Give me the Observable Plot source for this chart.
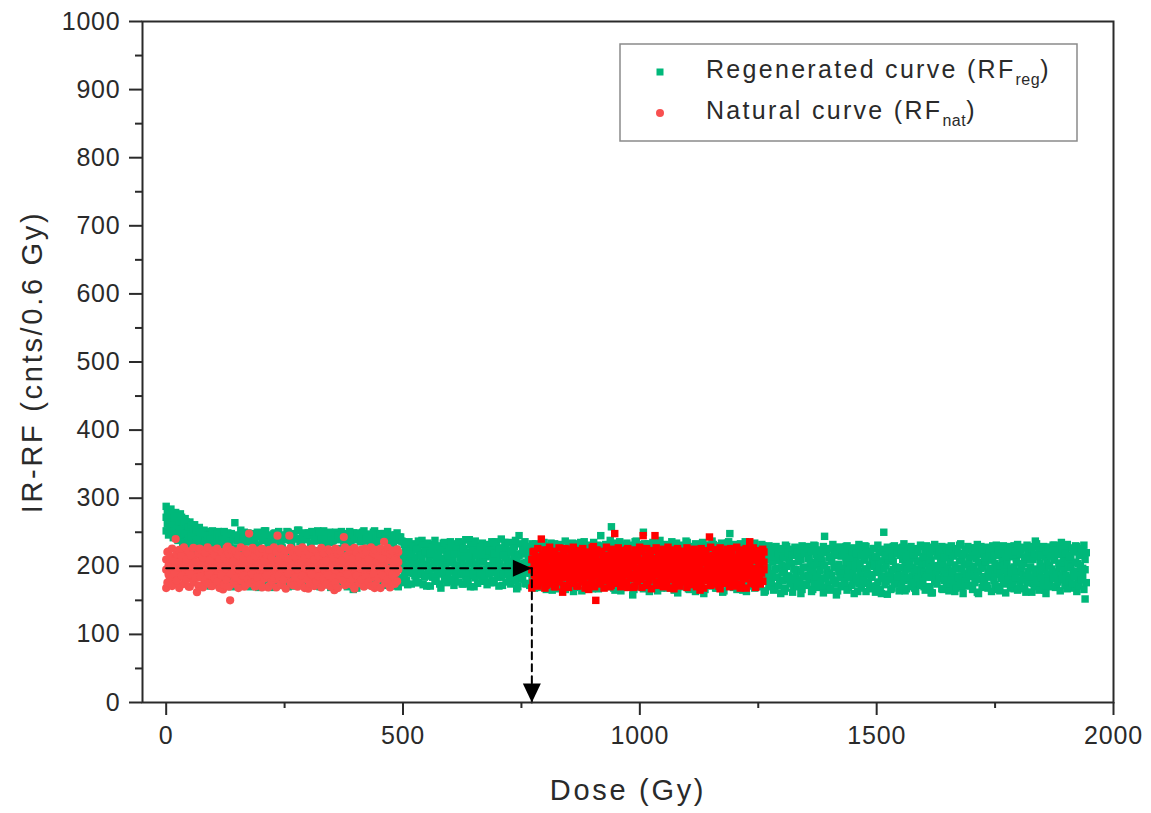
<!DOCTYPE html>
<html>
<head>
<meta charset="utf-8">
<script src="https://cdn.jsdelivr.net/npm/d3@7"></script>
<script src="https://cdn.jsdelivr.net/npm/@observablehq/plot@0.6"></script>
<style>
  html, body { margin: 0; padding: 0; background: #fff; }
  #chart svg { display: block; }
  g[aria-label="y-axis tick label"] text, g[aria-label="x-axis tick label"] text { letter-spacing: 0.8px; }
</style>
</head>
<body>
<div id="chart"></div>
<script>
// ---------- data ----------
const seriesNames = ["Regenerated curve (RF", "Natural curve (RF"];
const seriesSubs = ["reg", "nat"];
const seriesColors = ["#00b87a", "#f85050"];
const shiftedColor = "#ff0000";

// dose sampling (Gy): set A at 0, 5, 10 … Gy (3 readings each); set B at 2.5, 7.5 … Gy (2 readings each)
const regDoseStep = 5;   // regenerated curve, 0 … 1942.5 Gy
const natDoseStep = 5;   // natural curve, 0 … 490 Gy
const readingsA = 3;
const readingsB = 2;
const natShift = 772;    // natural curve slid onto the regenerated curve (Gy)

// IR-RF readings (cnts/0.6 Gy), regenerated curve, set A
const regRF = [
288,272,252,282,265,246,284,268,250,276,260,242,279,262,244,271,255,238,277,259,240,268,252,235,270,254,236,262,248,230,
265,248,232,258,243,226,261,245,229,254,240,222,257,242,225,250,236,218,253,238,221,248,234,216,251,236,219,249,233,214,
246,214,190,238,205,222,251,196,212,232,217,184,244,208,228,240,199,175,249,221,203,235,193,216,243,210,187,264,226,200,
237,204,219,245,212,180,233,198,225,250,215,191,241,207,172,236,223,200,248,195,214,239,210,186,244,218,202,231,201,169,
247,213,192,240,206,224,252,197,181,234,219,208,245,203,188,238,225,196,249,211,176,242,200,217,236,215,190,246,207,227,
239,194,212,251,218,185,244,205,199,233,222,171,248,210,193,240,198,216,253,214,187,237,206,224,245,192,202,241,220,180,
249,209,195,234,216,226,246,201,183,238,223,207,252,196,214,243,212,170,236,204,190,247,219,200,240,193,227,250,211,186,
235,207,218,244,199,174,248,221,195,239,213,204,251,192,226,237,208,183,245,217,199,242,203,211,233,224,188,249,197,166,
241,214,201,246,205,223,236,196,180,250,219,207,243,209,192,238,227,198,247,201,215,240,212,184,252,206,195,235,220,172,
244,199,217,239,213,189,248,207,224,237,221,178,245,195,210,241,216,200,234,204,187,246,225,197,238,210,170,243,201,219,
236,206,182,212,194,228,201,219,173,225,207,190,197,233,211,214,186,203,229,199,176,205,221,192,188,210,238,218,200,184,
203,226,171,211,193,232,196,215,186,230,204,199,208,179,222,192,217,206,224,198,168,207,234,189,199,212,181,216,191,227,
205,236,178,193,210,223,219,200,185,202,229,196,227,188,212,209,174,233,190,214,201,221,197,183,204,239,192,213,186,219,
198,224,170,216,203,231,187,211,195,228,194,207,206,220,180,195,232,214,222,189,200,201,215,176,210,198,226,191,236,204,
218,184,211,204,227,193,226,199,172,196,213,235,212,190,203,200,222,181,223,207,195,189,216,229,208,194,167,215,245,202,
197,218,185,221,204,232,206,191,174,214,227,199,190,208,220,225,196,183,203,233,212,218,187,200,195,213,169,209,228,192,
204,181,226,193,215,172,230,200,188,208,222,165,186,197,233,219,206,178,199,228,191,212,184,205,225,195,170,201,217,186,
190,232,207,216,198,176,203,221,163,228,189,210,196,213,182,209,235,194,185,204,223,220,192,171,200,226,188,213,180,204,
194,218,167,224,205,187,202,231,176,188,211,199,215,196,230,206,183,221,230,200,172,197,214,186,258,207,191,211,228,168,
189,203,234,222,195,179,205,217,164,231,188,209,198,224,185,214,202,173,186,229,206,219,193,158,204,236,190,227,181,212,
196,214,170,208,232,187,233,200,175,191,219,206,223,185,163,205,227,194,187,211,230,216,198,176,200,234,189,229,207,168,
193,220,182,211,188,231,224,203,170,198,216,193,207,232,178,185,201,222,226,195,161,203,214,187,190,229,205,218,197,174,
205,235,186,195,212,166,228,190,208,201,221,179,214,196,230,186,207,172,222,200,191,209,226,160,192,215,203,231,184,198,
199,218,175,212,193,232,187,206,168,225,199,213,204,228,184,195,212,162,219,188,207,202,234,191,248,197,180,208,222,171,
193,214,201,227,185,166,201,230,192,212,196,176,188,221,209,222,203,163,197,232,186,215,190,205,204,226,173,190,211,198,
224,198,170,203,215,186,191,230,207,217,183,164,199,221,193,210,189,176,186,206,228,221,195,168,197,225,184,208,179,212,
190,217,201,223,193,163,200,229,181,214,186,208,183,204,224,218,196,172,195,227,189,207,180,215,192,210,160,226,199,185,
198,219,174,211,187,229,186,206,194,225,197,166,202,230,182,189,213,204,220,194,178,208,183,221,244,201,169,195,224,188,
212,190,165,187,207,226,221,198,179,200,216,158,192,228,203,215,185,172,197,220,190,183,206,229,223,194,169,204,213,186,
190,226,177,216,199,207,197,184,163,227,204,192,185,215,175,209,230,196,196,188,218,220,202,167,188,211,184,205,226,200,
213,191,171,194,221,203,185,208,160,250,197,186,201,224,178,219,187,209,192,214,166,207,229,195,182,199,221,224,193,174,
198,216,187,210,183,228,189,205,164,222,196,211,203,227,180,186,212,198,217,191,168,195,224,206,208,184,176,229,201,193,
191,213,170,204,230,187,218,195,207,184,209,161,200,222,192,226,188,179,193,215,201,211,198,226,187,205,166,220,193,184,
199,228,175,214,186,206,190,217,193,224,202,163,183,197,221,208,231,186,196,211,170,219,189,203,203,225,181,186,208,197,
227,194,172,200,216,188,211,183,225,192,206,160,218,229,197,185,199,177,206,222,210,221,191,168,197,213,186,209,186,230,
188,204,173,216,226,195,201,190,164,229,211,183,194,219,202,207,185,177,183,214,224,220,197,189,199,230,167,212,192,206,
191,217,180,225,200,196,204,187,228,186,211,162,217,223,193,198,182,209,210,229,175,237,196,188,193,214,170,222,189,204,
200,226,184,214,195,165,188,208,219,228,201,178,196,217,192,209,184,231,191,222,171,219,199,205,235,187,180,203,213,194,
187,226,172,216,198,207,199,211,184,225,193,168,206,230,190,192,204,176,218,187,201,197,223,186,210,152,195
];

// IR-RF readings (cnts/0.6 Gy), regenerated curve, set B
const regRFb = [
280,262,276,258,278,264,271,252,274,256,266,249,272,254,263,246,265,248,258,241,261,244,255,238,253,236,256,240,250,233,
249,184,236,176,245,188,240,171,252,182,233,178,247,186,242,173,238,190,251,180,244,175,235,187,248,170,240,183,246,177,
239,185,253,172,243,181,236,176,249,189,241,170,247,183,234,178,250,174,244,187,238,171,252,180,242,176,246,185,237,169,
248,182,240,175,251,188,235,172,245,179,243,184,250,170,238,177,247,186,241,173,253,181,236,176,244,189,249,171,239,180,
246,174,251,185,237,178,244,171,249,183,240,176,252,188,235,173,247,180,242,169,238,184,250,177,245,172,241,186,248,175,
243,181,236,170,251,179,246,186,239,174,249,168,244,183,237,177,252,172,240,185,247,176,234,180,250,171,242,187,245,175,
248,178,238,184,244,172,251,180,236,175,246,186,240,171,249,179,243,183,237,176,232,188,222,179,236,193,218,174,229,190,
225,182,237,176,216,191,231,173,222,186,234,195,219,171,228,184,238,178,214,189,230,174,224,192,235,180,220,176,227,194,
233,181,218,172,229,189,236,177,221,193,226,174,239,185,215,179,231,170,224,188,237,183,220,175,228,191,234,178,217,186,
230,173,223,190,236,180,219,176,232,194,225,171,240,184,216,188,229,177,235,192,221,174,227,183,238,179,218,170,233,187,
224,181,236,175,229,190,220,172,233,184,226,168,217,187,231,176,223,170,235,183,219,166,228,189,234,174,221,180,230,167,
216,185,232,171,225,179,237,166,220,188,229,174,234,182,218,169,227,186,233,177,222,164,236,183,219,172,231,189,226,168,
235,178,221,185,228,167,245,180,224,173,232,190,217,170,238,183,226,176,230,165,220,187,236,174,223,181,229,169,234,186,
218,171,231,184,225,166,237,179,222,188,229,173,250,167,219,182,233,175,226,189,235,170,221,178,230,164,238,185,224,172,
232,180,217,168,228,186,236,174,221,165,234,183,225,177,219,190,231,170,237,181,223,167,229,188,216,175,233,163,226,184,
222,172,235,186,228,166,219,179,231,189,237,171,224,182,216,168,230,177,234,185,221,164,227,180,236,173,220,187,232,169,
225,183,218,174,233,188,229,165,236,179,222,171,231,186,217,176,234,168,226,182,220,173,232,185,228,162,215,178,230,170,
223,177,214,165,229,184,218,171,226,160,212,179,231,168,220,183,225,174,216,162,228,180,221,170,213,176,230,166,219,185,
227,172,215,181,222,163,231,176,217,184,224,169,212,178,229,161,220,182,226,173,214,167,232,180,218,175,223,164,228,183,
216,170,225,178,230,165,213,184,221,172,227,160,219,181,232,174,215,168,224,179,229,163,217,176,222,185,226,171,214,162,
231,177,220,166,225,182,216,173,228,159,222,180,213,168,230,175,218,184,227,164,221,171,233,179,215,167,224,183,229,170,
217,176,226,163,220,181,231,172,214,178,223,165,228,184,218,170,225,161,232,177,216,174,221,182,229,167,213,179,227,171,
222,164,230,180,215,173,226,168,219,183,233,175,217,160,224,178,229,171,214,185,221,166,227,176,232,162,218,181,225,169,
213,177,228,172,220,184,226,163,216,179,231,170,223,166,219,182,230,174,215,161,224,180,229,168,217,175,222,183,232,165,
219,172,227,180,214,167,231,176,221,184,226,162,218,171,233,179,224,165,216,183,229,173,222,160,228,178,215,170,231,182,
223,169,217,177,230,164,225,181,219,172,232,167,214,179,227,174,221,185,229,163,216,171,226,180,231,166,220,176
];

// IR-RF readings (cnts/0.6 Gy), natural curve, set A
const natRF = [
210,168,195,188,222,201,205,180,214,196,209,176,240,190,203,183,212,199,207,192,172,198,224,186,211,179,194,
202,185,219,191,210,170,206,196,181,187,215,200,162,204,192,199,226,184,208,189,213,194,175,203,211,198,186,
190,218,204,200,182,171,209,195,223,186,203,197,214,178,192,197,210,188,205,166,217,192,201,183,208,229,196,
150,199,212,187,206,193,203,174,220,195,211,185,209,190,202,184,216,198,201,193,170,212,187,205,248,196,183,
204,189,214,193,220,178,207,198,186,190,211,202,199,176,224,213,195,188,186,208,200,202,169,215,194,210,183,
209,191,222,196,181,205,245,200,188,188,214,199,206,193,172,199,221,185,211,186,203,245,197,190,192,208,177,
203,188,216,197,212,180,185,204,194,210,173,201,193,219,187,206,196,211,189,201,167,215,192,205,198,183,222,
201,213,186,191,205,196,208,178,219,186,199,210,204,222,190,195,184,207,212,197,175,188,209,201,200,165,214,
193,206,182,209,190,220,197,214,185,243,201,192,205,179,211,190,203,196,214,187,224,199,171,206,186,210,195,
207,194,181,196,218,203,211,185,199,190,206,226,203,176,192,197,213,186,184,200,209,215,191,168,198,207,189,
205,182,217,192,210,199,236,201,186,187,197,212,209,174,194,196,219,184,202,188,207,190,213,178,206,195,221
];

// IR-RF readings (cnts/0.6 Gy), natural curve, set B
const natRFb = [
221,176,212,184,226,171,208,189,218,179,224,168,215,186,228,174,210,181,222,170,216,188,227,177,206,183,219,172,
225,185,213,169,220,180,228,175,209,187,223,171,217,182,226,178,211,168,221,186,214,173,227,180,218,170,224,189,
207,177,222,183,216,168,228,179,212,186,225,172,219,181,210,175,227,188,215,170,223,184,220,173,226,169,208,182,
218,187,224,171,213,178,228,183,221,169,209,185,226,174,216,180,223,167,211,189,227,176,219,172,214,184,225,170,
220,179,228,186,212,168,224,181,217,174,226,188,210,171,222,177,215,185,227,169,219,182,208,173,225,187,221,170,
213,183,226,176,218,168,223,185,209,179,228,172,216,188,224,174,211,181,227,167,220,186,214,175,225,180,217,170,
222,184,210,177,228,171,219,189,224,173,215,182,226,168,212,186,221,175,227,180,218,169,223,187,209,174,225,178
];

// equivalent-dose construction (dashed arrows)
const crossRF = 197;
const equivDose = 772;
const hArrow = [{dose: 0, rf: crossRF}, {dose: equivDose, rf: crossRF}];
const vArrow = [{dose: equivDose, rf: crossRF}, {dose: equivDose, rf: 0}];

// axes
const xDomain = [-50, 2000];
const yDomain = [0, 1000];
const xMajor = [0, 500, 1000, 1500, 2000];
const xMinor = [250, 750, 1250, 1750];
const yMajor = [0, 100, 200, 300, 400, 500, 600, 700, 800, 900, 1000];
const yMinor = [50, 150, 250, 350, 450, 550, 650, 750, 850, 950];
const xTitle = "Dose (Gy)";
const yTitle = "IR-RF (cnts/0.6 Gy)";

// ---------- build rows ----------
const rowsA = (vals, step) => vals.map((rf, i) => ({dose: Math.floor(i / readingsA) * step, rf}));
const rowsB = (vals, step) => vals.map((rf, i) => ({dose: step / 2 + Math.floor(i / readingsB) * step, rf}));
const regRows = rowsA(regRF, regDoseStep).concat(rowsB(regRFb, regDoseStep));
const natRows = rowsA(natRF, natDoseStep).concat(rowsB(natRFb, natDoseStep));
const natShiftedRows = natRows.map(d => ({dose: d.dose + natShift, rf: d.rf}));

const FONT = "'Liberation Sans', Arial, Helvetica, sans-serif";
const INK = "#2a2a2a";

const arrowRight = {draw(ctx) { ctx.moveTo(0, 0); ctx.lineTo(-19, -8.5); ctx.lineTo(-19, 8.5); ctx.closePath(); }};
const arrowDown = {draw(ctx) { ctx.moveTo(0, 0); ctx.lineTo(-9, -19); ctx.lineTo(9, -19); ctx.closePath(); }};

const chart = Plot.plot({
  width: 1151,
  height: 813,
  marginLeft: 142,
  marginRight: 38,
  marginTop: 21,
  marginBottom: 111,
  style: {fontFamily: FONT, background: "white", color: INK, overflow: "visible"},
  x: {domain: xDomain},
  y: {domain: yDomain},
  marks: [
    Plot.dot(regRows, {x: "dose", y: "rf", symbol: "square", r: 4.2, fill: seriesColors[0], stroke: "none"}),
    Plot.dot(natRows, {x: "dose", y: "rf", symbol: "circle", r: 4.1, fill: seriesColors[1], stroke: "none"}),
    Plot.dot(natShiftedRows, {x: "dose", y: "rf", symbol: "square", r: 4.2, fill: shiftedColor, stroke: "none"}),
    Plot.line(hArrow, {x: "dose", y: "rf", stroke: "black", strokeWidth: 2, strokeDasharray: "8,6"}),
    Plot.line(vArrow, {x: "dose", y: "rf", stroke: "black", strokeWidth: 2, strokeDasharray: "7,5"}),
    Plot.dot([hArrow[1]], {x: "dose", y: "rf", symbol: arrowRight, fill: "black", stroke: "none"}),
    Plot.dot([vArrow[1]], {x: "dose", y: "rf", symbol: arrowDown, fill: "black", stroke: "none"}),
    Plot.frame({stroke: INK, strokeWidth: 2}),
    Plot.axisY({ticks: yMajor, tickSize: 13, tickPadding: 9, tickFormat: d => String(d), fontSize: 25, label: null, stroke: INK, strokeWidth: 2, fill: INK}),
    Plot.axisY({ticks: yMinor, tickSize: 7, tickFormat: () => "", label: null, stroke: INK, strokeWidth: 2}),
    Plot.axisX({ticks: xMajor, tickSize: 13, tickPadding: 11, tickFormat: d => String(d), fontSize: 25, label: null, stroke: INK, strokeWidth: 2, fill: INK}),
    Plot.axisX({ticks: xMinor, tickSize: 6, tickFormat: () => "", label: null, stroke: INK, strokeWidth: 2}),
    Plot.text([yTitle], {text: d => d, frameAnchor: "left", dx: -110, rotate: -90, textAnchor: "middle", lineAnchor: "middle", fontSize: 29, fill: INK}),
    Plot.text([xTitle], {text: d => d, frameAnchor: "bottom", dy: 88, textAnchor: "middle", lineAnchor: "middle", fontSize: 29, fill: INK})
  ]
});

document.getElementById("chart").appendChild(chart);

const svg = d3.select(chart);
svg.selectAll('g[aria-label="text"] text').style("letter-spacing", "2.7px");

// ---------- legend ----------
const lg = svg.append("g").attr("font-family", FONT).attr("fill", INK).attr("text-anchor", "start");
lg.append("rect")
  .attr("x", 620).attr("y", 44).attr("width", 457).attr("height", 97)
  .attr("fill", "white").attr("stroke", "#8a8a8a").attr("stroke-width", 1.5);

const rowY = [72, 113];
seriesNames.forEach((name, i) => {
  if (i === 0) {
    lg.append("rect").attr("x", 660 - 3.5).attr("y", rowY[i] - 3.5).attr("width", 7).attr("height", 7).attr("fill", seriesColors[i]);
  } else {
    lg.append("circle").attr("cx", 660).attr("cy", rowY[i]).attr("r", 4).attr("fill", seriesColors[i]);
  }
  const t = lg.append("text").attr("x", 706).attr("y", rowY[i] + 6).attr("font-size", 25).attr("text-anchor", "start").style("letter-spacing", "2.3px");
  t.append("tspan").text(name);
  t.append("tspan").attr("font-size", 16).attr("dy", 7).style("letter-spacing", "0.5px").text(seriesSubs[i]);
  t.append("tspan").attr("dy", -7).text(")");
});
</script>
</body>
</html>
